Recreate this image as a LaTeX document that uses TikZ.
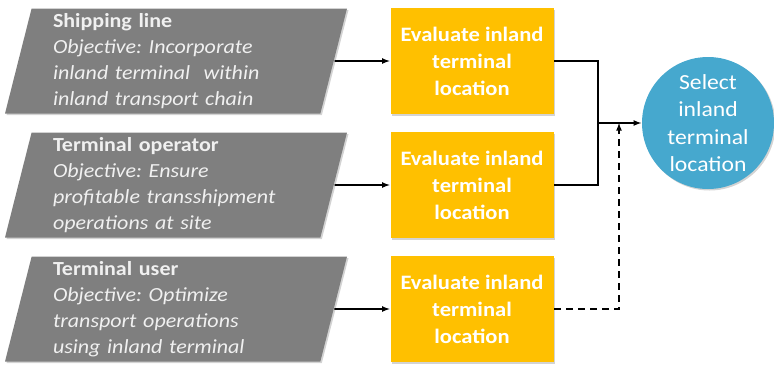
\documentclass[tikz,border=0pt]{standalone}
\usepackage{fontspec}
\setmainfont[FakeStretch=1.1]{Carlito}
\usepackage{tikz}
\usetikzlibrary{positioning,shapes.geometric,shadows}
\definecolor{actorgray}{RGB}{127,127,127}
\definecolor{evalyellow}{RGB}{255,192,0}
\definecolor{selectblue}{RGB}{70,168,206}
\frenchspacing

\begin{document}
\begin{tikzpicture}[x=1pt, y=1pt, -latex, node distance = 124pt and 296pt, on grid, line width=1.6pt,
actor/.style ={trapezium, trapezium left angle=75, trapezium right angle=105, trapezium stretches body,
  minimum width=342pt, minimum height=105pt, inner sep=2pt, fill=actorgray, text=black!6, text width=246pt, align=left,
  font=\fontsize{20}{26}\selectfont, drop shadow={shadow xshift=1.5pt, shadow yshift=-1.5pt, opacity=0.35}},
evalbox/.style ={rectangle, fill=evalyellow, text=white, minimum width=163pt, minimum height=106pt, align=center,
  font=\bfseries\fontsize{20.5}{27}\selectfont, drop shadow={shadow xshift=1.5pt, shadow yshift=-1.5pt, opacity=0.35}},
selectnode/.style ={circle, fill=selectblue, text=white, minimum size=132pt, inner sep=0pt, align=center,
  font=\fontsize{21.5}{27.5}\selectfont, drop shadow={shadow xshift=1.5pt, shadow yshift=-1.5pt, opacity=0.35}}]
\useasboundingbox (0,0) rectangle (774,-365);

\node[actor] (ship) at (176,-61) {\textbf{Shipping line}\\ \textit{Objective: Incorporate}\\ \textit{inland terminal\ \ within}\\ \textit{inland transport chain}};
\node[actor] (oper) [below = of ship] {\textbf{Terminal operator}\\ \textit{Objective: Ensure}\\ \textit{profitable transshipment}\\ \textit{operations at site}};
\node[actor] (user) [below = of oper] {\textbf{Terminal user}\\ \textit{Objective: Optimize}\\ \textit{transport operations}\\ \textit{using inland terminal}};

\node[evalbox] (evship) [right = of ship] {Evaluate inland\\ terminal\\ location};
\node[evalbox] (evoper) [right = of oper] {Evaluate inland\\ terminal\\ location};
\node[evalbox] (evuser) [right = of user] {Evaluate inland\\ terminal\\ location};

\node[selectnode] (select) at (708,-123) {Select\\ inland\\ terminal\\ location};
\coordinate (join) at (598,-123);
\coordinate (dashjoin) at (619,-123);

\draw (ship.east) -- (evship.west);
\draw (oper.east) -- (evoper.west);
\draw (user.east) -- (evuser.west);

\draw [-] (evship.east) -| (join) |- (evoper.east);
\draw (join) -- (select.west);
\draw [dash pattern=on 7pt off 5pt] (evuser.east) -| (dashjoin);
\end{tikzpicture}
\end{document}
